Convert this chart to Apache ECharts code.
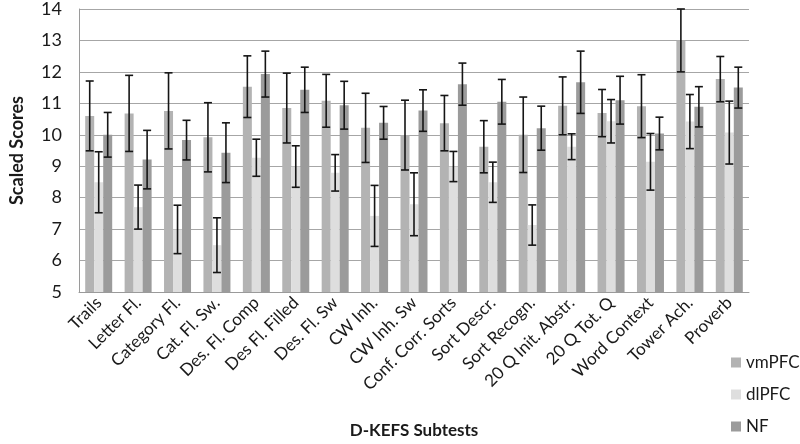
<!DOCTYPE html>
<html>
<head>
<meta charset="utf-8">
<script src="https://cdn.jsdelivr.net/npm/echarts@6/dist/echarts.min.js"></script>
<style>
  html, body { margin: 0; padding: 0; background: #fff; }
  #chart { width: 800px; height: 444px; }
</style>
</head>
<body>
<div id="chart"></div>
<script>
// D-KEFS subtests, mean scaled score and error bar half-length per group
var categories = ['Trails', 'Letter Fl.', 'Category Fl.', 'Cat. Fl. Sw.', 'Des. Fl. Comp', 'Des Fl. Filled',
  'Des. Fl. Sw', 'CW Inh.', 'CW Inh. Sw', 'Conf. Corr. Sorts', 'Sort Descr.', 'Sort Recogn.',
  '20 Q Init. Abstr.', '20 Q Tot. Q', 'Word Context', 'Tower Ach.', 'Proverb']

var vmPFC = [10.6, 10.68, 10.76, 9.92, 11.53, 10.85, 11.08, 10.22, 9.99, 10.37, 9.62, 10.0, 10.92, 10.69, 10.91, 13.0, 11.77]
var vmErr = [1.11, 1.21, 1.21, 1.1, 0.98, 1.11, 0.84, 1.1, 1.11, 0.88, 0.83, 1.2, 0.92, 0.75, 1.0, 1.0, 0.72]

var dlPFC = [8.49, 7.7, 6.99, 6.49, 9.27, 8.99, 8.79, 7.42, 7.79, 8.99, 8.49, 7.13, 9.62, 10.43, 9.14, 10.42, 10.07]
var dlErr = [0.97, 0.7, 0.77, 0.87, 0.59, 0.66, 0.58, 0.97, 1.0, 0.48, 0.64, 0.64, 0.41, 0.69, 0.9, 0.86, 1.0]

var NF = [10.0, 9.21, 9.83, 9.43, 11.93, 11.43, 10.94, 10.38, 10.77, 11.61, 11.05, 10.21, 11.67, 11.1, 10.04, 10.89, 11.5]
var nfErr = [0.71, 0.93, 0.63, 0.95, 0.73, 0.72, 0.76, 0.52, 0.66, 0.67, 0.71, 0.7, 0.99, 0.76, 0.52, 0.64, 0.65]

var yTicks = { min: 5, max: 14, step: 1 }

var BAR_W = 9
var FONT = 'Lato, "Open Sans", sans-serif'

function errData(means, errs) {
  var ret = []
  for (var i = 0; i < means.length; i++) {
    ret.push([i, means[i], errs[i]])
  }
  return ret
}

// draws one whisker, shifted sideways to sit on its bar
function errorBar(offset) {
  return function (params, api) {
    var i = api.value(0)
    var m = api.value(1)
    var e = api.value(2)
    var hi = api.coord([i, m + e])
    var lo = api.coord([i, m - e])
    var x = hi[0] + offset
    var cap = 4
    var st = { stroke: '#151515', lineWidth: 1.6 }
    return {
      type: 'group',
      children: [
        { type: 'line', shape: { x1: x, y1: hi[1], x2: x, y2: lo[1] }, style: st },
        { type: 'line', shape: { x1: x - cap, y1: hi[1], x2: x + cap, y2: hi[1] }, style: st },
        { type: 'line', shape: { x1: x - cap, y1: lo[1], x2: x + cap, y2: lo[1] }, style: st }
      ]
    }
  }
}

function errSeries(means, errs, offset) {
  return {
    type: 'custom',
    renderItem: errorBar(offset),
    data: errData(means, errs),
    encode: { x: 0, y: 1 },
    z: 5,
    silent: true
  }
}

var chart = echarts.init(document.getElementById('chart'))
chart.setOption({
  animation: false,
  textStyle: { fontFamily: FONT },
  grid: { left: 62, right: 51, top: 7, bottom: 146 },
  legend: {
    data: ['vmPFC', 'dlPFC', 'NF'],
    orient: 'vertical',
    left: 731,
    top: 354,
    padding: 0,
    icon: 'rect',
    itemWidth: 10,
    itemHeight: 10,
    itemGap: 15,
    textStyle: { fontSize: 17, color: '#1a1a1a', fontFamily: FONT }
  },
  xAxis: {
    type: 'category',
    data: categories,
    name: 'D-KEFS Subtests',
    nameLocation: 'middle',
    nameGap: 130,
    nameTextStyle: { fontSize: 17, fontWeight: 'bold', color: '#1a1a1a', fontFamily: FONT },
    axisLine: { lineStyle: { color: '#9a9a9a', width: 1 } },
    axisTick: { length: 5, lineStyle: { color: '#9a9a9a' } },
    axisLabel: { rotate: 45, fontSize: 17, color: '#1a1a1a', margin: 8, interval: 0, fontFamily: FONT }
  },
  yAxis: {
    type: 'value',
    min: yTicks.min,
    max: yTicks.max,
    interval: yTicks.step,
    name: 'Scaled Scores',
    nameLocation: 'middle',
    nameRotate: 90,
    nameGap: 53,
    nameTextStyle: { fontSize: 18, fontWeight: 'bold', color: '#1a1a1a', fontFamily: FONT },
    axisLine: { show: true, lineStyle: { color: '#9a9a9a' } },
    axisTick: { show: false },
    axisLabel: { fontSize: 18, color: '#1a1a1a', margin: 17, fontFamily: FONT },
    splitLine: { lineStyle: { color: '#a6a6a6', width: 1 } }
  },
  series: [
    { name: 'vmPFC', type: 'bar', data: vmPFC, barWidth: BAR_W, barGap: '0%', itemStyle: { color: '#b3b3b3' } },
    { name: 'dlPFC', type: 'bar', data: dlPFC, barWidth: BAR_W, barGap: '0%', itemStyle: { color: '#dedede' } },
    { name: 'NF', type: 'bar', data: NF, barWidth: BAR_W, barGap: '0%', itemStyle: { color: '#9b9b9b' } },
    errSeries(vmPFC, vmErr, -BAR_W),
    errSeries(dlPFC, dlErr, 0),
    errSeries(NF, nfErr, BAR_W)
  ]
})
</script>
</body>
</html>
